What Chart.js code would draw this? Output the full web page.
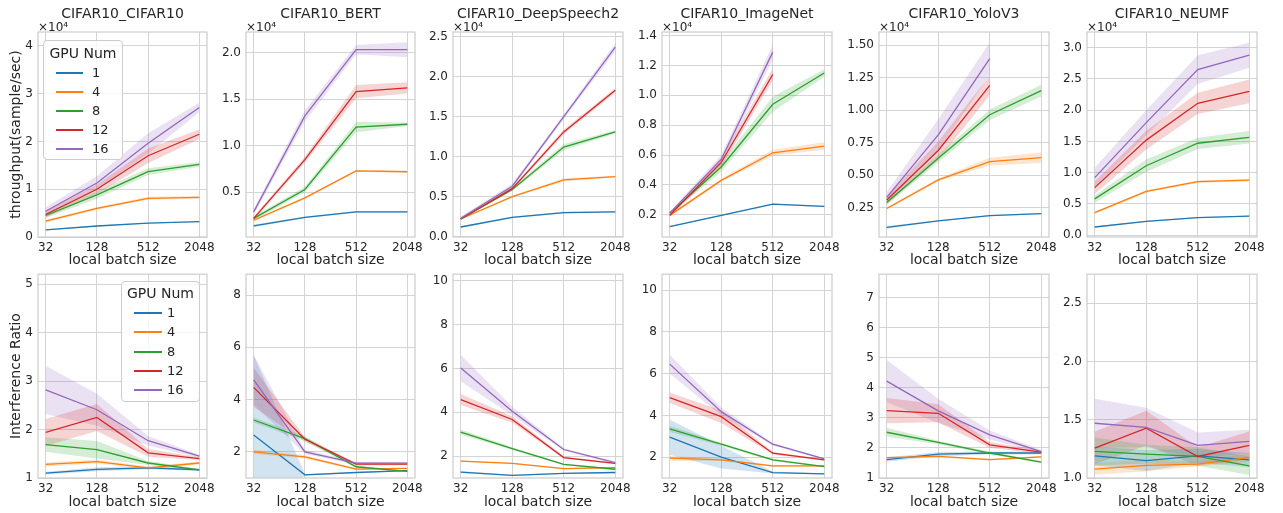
<!DOCTYPE html>
<html><head><meta charset="utf-8">
<script src="https://cdn.jsdelivr.net/npm/chart.js@4.4.0/dist/chart.umd.min.js"></script>
<style>
html,body{margin:0;padding:0;background:#fff;}
body{width:1283px;height:513px;overflow:hidden;position:relative;font-family:'DejaVu Sans',sans-serif;color:#262626;}
canvas{position:absolute;}
.leg{position:absolute;border:1px solid #cccccc;border-radius:4px;background:rgba(255,255,255,0.8);box-sizing:border-box;z-index:5;}
.leg .t{position:absolute;left:0;right:0;text-align:center;font-size:14px;line-height:16px;}
.leg .s{position:absolute;height:2px;}
.leg .l{position:absolute;font-size:13px;line-height:16px;}
</style></head><body>
<script>
// ---------------- data ----------------
const batchSizes = ["32", "128", "512", "2048"];
const gpuNums = ["1", "4", "8", "12", "16"];
const models = ["CIFAR10_CIFAR10", "CIFAR10_BERT", "CIFAR10_DeepSpeech2", "CIFAR10_ImageNet", "CIFAR10_YoloV3", "CIFAR10_NEUMF"];

// throughput, in units of 1e4 sample/sec; one row per GPU num, one column per batch size
const thrCIFAR10 = [[0.15,0.23,0.29,0.32],[0.33,0.60,0.81,0.83],[0.45,0.88,1.37,1.52],[0.47,1.00,1.70,2.15],[0.54,1.13,1.96,2.71]];
const thrCIFAR10Ci = [[0.01,0.01,0.01,0.01],[0.03,0.03,0.03,0.03],[0.05,0.08,0.07,0.05],[0.06,0.10,0.15,0.10],[0.08,0.14,0.21,0.10]];
const thrBERT = [[0.14,0.23,0.29,0.29],[0.20,0.44,0.73,0.72],[0.22,0.53,1.20,1.23],[0.22,0.85,1.58,1.62],[0.29,1.32,2.03,2.03]];
const thrBERTCi = [[0.015,0.01,0.01,0.01],[0.015,0.01,0.01,0.01],[0.02,0.03,0.055,0.02],[0.02,0.03,0.07,0.06],[0.03,0.06,0.05,0.08]];
const thrDeepSpeech2 = [[0.12,0.24,0.30,0.31],[0.22,0.50,0.71,0.75],[0.22,0.59,1.12,1.31],[0.22,0.60,1.31,1.83],[0.23,0.63,1.50,2.37]];
const thrDeepSpeech2Ci = [[0.01,0.01,0.01,0.01],[0.01,0.01,0.02,0.01],[0.01,0.02,0.04,0.02],[0.01,0.02,0.03,0.03],[0.02,0.03,0.03,0.05]];
const thrImageNet = [[0.12,0.195,0.27,0.255],[0.195,0.43,0.615,0.66],[0.21,0.52,0.94,1.15],[0.195,0.55,1.14,null],[0.21,0.57,1.29,null]];
const thrImageNetCi = [[0.005,0.005,0.005,0.005],[0.01,0.01,0.02,0.025],[0.01,0.03,0.05,0.025],[0.01,0.03,0.04,null],[0.01,0.03,0.05,null]];
const thrYoloV3 = [[0.10,0.15,0.19,0.205],[0.245,0.465,0.605,0.635],[0.29,0.63,0.965,1.15],[0.31,0.69,1.19,null],[0.33,0.81,1.395,null]];
const thrYoloV3Ci = [[0.01,0.005,0.005,0.005],[0.01,0.01,0.03,0.04],[0.02,0.03,0.04,0.045],[0.03,0.07,0.075,null],[0.04,0.12,0.125,null]];
const thrNEUMF = [[0.13,0.22,0.28,0.305],[0.36,0.70,0.855,0.88],[0.58,1.11,1.47,1.565],[0.76,1.52,2.11,2.30],[0.92,1.80,2.65,2.88]];
const thrNEUMFCi = [[0.01,0.01,0.01,0.01],[0.02,0.02,0.02,0.02],[0.06,0.10,0.09,0.10],[0.10,0.15,0.17,0.19],[0.16,0.20,0.23,0.20]];

// interference ratio
const irCIFAR10 = [[1.10,1.18,1.21,1.17],[1.28,1.34,1.21,1.31],[1.69,1.585,1.31,1.17],[1.94,2.25,1.52,1.40],[2.82,2.41,1.77,1.45]];
const irCIFAR10Ci = [[0.03,0.04,0.03,0.02],[0.04,0.04,0.03,0.03],[0.15,0.18,0.04,0.02],[0.28,0.28,0.08,0.03],[0.50,0.33,0.10,0.03]];
const irBERT = [[2.65,1.12,1.21,1.28],[2.00,1.81,1.34,1.37],[3.22,2.51,1.43,1.25],[4.47,2.48,1.53,1.53],[4.76,2.00,1.57,1.57]];
const irBERTCi = [[3.05,0.03,0.02,0.02],[0.08,0.06,0.03,0.03],[0.10,0.10,0.05,0.03],[0.75,0.08,0.05,0.04],[0.95,0.08,0.05,0.05]];
const irDeepSpeech2 = [[1.27,1.12,1.21,1.25],[1.77,1.67,1.43,1.47],[3.09,2.34,1.62,1.40],[4.58,3.67,1.93,1.67],[6.02,4.05,2.30,1.70]];
const irDeepSpeech2Ci = [[0.05,0.03,0.03,0.03],[0.03,0.03,0.03,0.03],[0.12,0.06,0.04,0.03],[0.25,0.15,0.05,0.04],[0.60,0.20,0.06,0.05]];
const irImageNet = [[2.96,2.00,1.26,1.20],[1.95,1.87,1.58,1.58],[3.35,2.62,1.87,1.55],[4.85,3.94,2.19,1.87],[6.46,4.18,2.62,1.92]];
const irImageNetCi = [[0.85,0.55,0.05,0.03],[0.12,0.05,0.04,0.03],[0.15,0.07,0.05,0.04],[0.25,0.30,0.06,0.04],[0.45,0.20,0.06,0.04]];
const irYoloV3 = [[1.61,1.79,1.83,1.83],[1.68,1.72,1.61,1.70],[2.52,2.18,1.83,1.53],[3.24,3.15,2.10,1.86],[4.22,3.23,2.43,1.88]];
const irYoloV3Ci = [[0.07,0.07,0.05,0.05],[0.03,0.03,0.03,0.03],[0.15,0.06,0.04,0.03],[0.42,0.30,0.10,0.05],[0.70,0.40,0.15,0.05]];
const irNEUMF = [[1.19,1.15,1.19,1.155],[1.077,1.108,1.12,1.177],[1.228,1.205,1.185,1.105],[1.257,1.428,1.185,1.28],[1.47,1.434,1.28,1.314]];
const irNEUMFCi = [[0.08,0.09,0.06,0.06],[0.05,0.05,0.02,0.04],[0.12,0.08,0.08,0.08],[0.14,0.15,0.08,0.12],[0.21,0.17,0.11,0.10]];

// axis limits and tick labels
const thrYMin = [0, 0.02, -0.005, 0.05, 0.026, -0.03];
const thrYMax = [4.29, 2.22, 2.56, 1.425, 1.60, 3.25];
const irYMin = [1, 1, 1, 1, 1, 1];
const irYMax = [5.21, 8.8, 10.3, 10.77, 7.77, 2.75];
const thrTicks = [["0","1","2","3","4"],["0.5","1.0","1.5","2.0"],["0.0","0.5","1.0","1.5","2.0","2.5"],["0.2","0.4","0.6","0.8","1.0","1.2","1.4"],["0.25","0.50","0.75","1.00","1.25","1.50"],["0.0","0.5","1.0","1.5","2.0","2.5","3.0"]];
const irTicks = [["1","2","3","4","5"],["2","4","6","8"],["2","4","6","8","10"],["2","4","6","8","10"],["1","2","3","4","5","6","7"],["1.0","1.5","2.0","2.5"]];

// ---------------- drawing ----------------
const thrMeans = [thrCIFAR10, thrBERT, thrDeepSpeech2, thrImageNet, thrYoloV3, thrNEUMF];
const thrCis = [thrCIFAR10Ci, thrBERTCi, thrDeepSpeech2Ci, thrImageNetCi, thrYoloV3Ci, thrNEUMFCi];
const irMeans = [irCIFAR10, irBERT, irDeepSpeech2, irImageNet, irYoloV3, irNEUMF];
const irCis = [irCIFAR10Ci, irBERTCi, irDeepSpeech2Ci, irImageNetCi, irYoloV3Ci, irNEUMFCi];

const lineColors = ['#1f77b4', '#ff7f0e', '#2ca02c', '#d62728', '#9467bd'];
const bandColors = ['rgba(31,119,180,0.2)', 'rgba(255,127,14,0.2)', 'rgba(44,160,44,0.2)', 'rgba(214,39,40,0.2)', 'rgba(148,103,189,0.2)'];
const gridColor = '#d4d4d4';
const textColor = '#262626';
const frameL = [38, 246, 453, 662, 879, 1087];
const frameR = [207, 415, 623, 832, 1049, 1257];

Chart.defaults.font.family = "'DejaVu Sans', sans-serif";
Chart.defaults.color = textColor;

const framePlugin = {
  id: 'frame',
  afterDatasetsDraw(chart) {
    const a = chart.chartArea, ctx = chart.ctx;
    ctx.save();
    ctx.strokeStyle = '#cccccc';
    ctx.lineWidth = 1.2;
    ctx.strokeRect(a.left, a.top, a.right - a.left, a.bottom - a.top);
    ctx.restore();
  }
};

function pts(arr) { return arr.map((v, i) => ({ x: i, y: v })); }

function makeChart(row, col) {
  const means = row === 0 ? thrMeans[col] : irMeans[col];
  const cis = row === 0 ? thrCis[col] : irCis[col];
  const tickLabels = row === 0 ? thrTicks[col] : irTicks[col];
  const yw = col === 0 ? 38 : 42;
  const xh = row === 0 ? 32 : 35;
  const top = row === 0 ? 0 : 262;
  const h = row === 0 ? 269 : 251;
  const w = yw + (frameR[col] - frameL[col]) + 16;
  const cv = document.createElement('canvas');
  cv.width = w; cv.height = h;
  cv.style.left = (frameL[col] - yw) + 'px';
  cv.style.top = top + 'px';
  cv.style.width = w + 'px'; cv.style.height = h + 'px';
  document.body.appendChild(cv);

  const datasets = [];
  means.forEach((m, s) => {
    const lo = m.map((v, i) => v == null ? null : v - cis[s][i]);
    const hi = m.map((v, i) => v == null ? null : v + cis[s][i]);
    datasets.push({ data: pts(lo), borderColor: 'rgba(0,0,0,0)', borderWidth: 0, pointRadius: 0, fill: false, order: 10 });
    datasets.push({ data: pts(hi), borderColor: 'rgba(0,0,0,0)', borderWidth: 0, pointRadius: 0, fill: '-1', backgroundColor: bandColors[s], order: 10 });
  });
  means.forEach((m, s) => {
    datasets.push({ label: gpuNums[s], data: pts(m), borderColor: lineColors[s], borderWidth: 1.3, pointRadius: 0, fill: false, order: 5 - s });
  });

  new Chart(cv, {
    type: 'line',
    data: { datasets },
    options: {
      responsive: false, animation: false, devicePixelRatio: 1,
      layout: { padding: { left: 0, right: 16, top: row === 0 ? 0 : 12, bottom: 0 } },
      plugins: {
        legend: { display: false }, tooltip: { enabled: false },
        title: { display: row === 0, text: models[col], fullSize: false, color: textColor,
                 font: { size: 14, weight: 'normal', lineHeight: 1.2 }, padding: { top: 6, bottom: 0 } },
        subtitle: { display: row === 0, text: '×10⁴', align: 'start', fullSize: false, color: textColor,
                    font: { size: 12, lineHeight: 0.767 }, padding: 0 }
      },
      scales: {
        x: {
          type: 'linear', min: -0.15, max: 3.15,
          afterBuildTicks: s => { s.ticks = batchSizes.map((b, i) => ({ value: i })); },
          afterFit: s => { s.height = xh; },
          ticks: { callback: (v, i) => batchSizes[i], padding: 4, color: textColor, font: { size: 12 }, autoSkip: false, maxRotation: 0 },
          grid: { color: gridColor, drawTicks: false, lineWidth: 1 },
          border: { display: false },
          title: { display: true, text: 'local batch size', color: textColor, font: { size: 14 },
                   padding: { top: 0, bottom: row === 0 ? 0.6 : 2.6 } }
        },
        y: {
          type: 'linear',
          min: row === 0 ? thrYMin[col] : irYMin[col],
          max: row === 0 ? thrYMax[col] : irYMax[col],
          afterBuildTicks: s => { s.ticks = tickLabels.map(t => ({ value: parseFloat(t) })); },
          afterFit: s => { s.width = yw; },
          ticks: { callback: (v, i) => tickLabels[i], padding: 5, color: textColor, font: { size: 12 } },
          grid: { color: gridColor, drawTicks: false, lineWidth: 1 },
          border: { display: false },
          title: { display: col === 0, text: row === 0 ? 'throughput(sample/sec)' : 'Interference Ratio',
                   color: textColor, font: { size: 14 }, padding: { top: 7.6, bottom: 0 } }
        }
      }
    },
    plugins: [framePlugin]
  });
}

for (let r = 0; r < 2; r++) for (let c = 0; c < 6; c++) makeChart(r, c);

function makeLegend(box) {
  const d = document.createElement('div');
  d.className = 'leg';
  d.style.left = box.left + 'px'; d.style.top = box.top + 'px';
  d.style.width = box.w + 'px'; d.style.height = box.h + 'px';
  const t = document.createElement('div');
  t.className = 't'; t.textContent = 'GPU Num';
  t.style.top = (box.titleY - 8) + 'px';
  d.appendChild(t);
  gpuNums.forEach((g, s) => {
    const y = box.entryY + s * box.step;
    const sw = document.createElement('div');
    sw.className = 's';
    sw.style.left = box.lineL + 'px'; sw.style.width = box.lineW + 'px';
    sw.style.top = (y - 1) + 'px'; sw.style.background = lineColors[s];
    d.appendChild(sw);
    const l = document.createElement('div');
    l.className = 'l'; l.textContent = g;
    l.style.left = box.textL + 'px'; l.style.top = (y - 8) + 'px';
    d.appendChild(l);
  });
  document.body.appendChild(d);
}
makeLegend({ left: 43, top: 40, w: 80, h: 120, titleY: 12, entryY: 32, step: 19, lineL: 12, lineW: 27, textL: 48 });
makeLegend({ left: 121, top: 281, w: 79, h: 121, titleY: 11, entryY: 31, step: 19.25, lineL: 12, lineW: 28, textL: 45 });
</script>
</body></html>
